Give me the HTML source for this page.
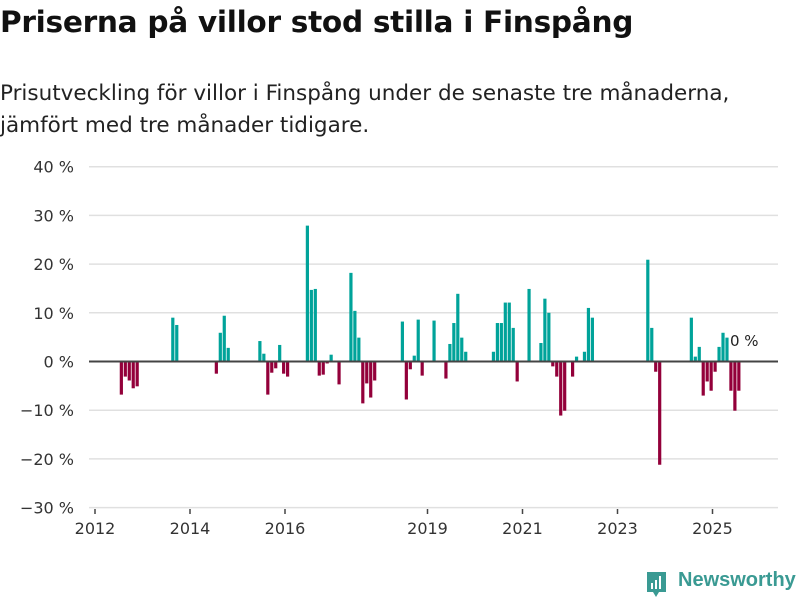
<!DOCTYPE html>
<html><head><meta charset="utf-8"><style>
body{margin:0;width:800px;height:600px;background:#fff;font-family:"DejaVu Sans","Liberation Sans",sans-serif;overflow:hidden;position:relative}
h1{position:absolute;left:0;top:5px;margin:0;font-size:29.6px;font-weight:bold;color:#111;letter-spacing:-0.3px;white-space:nowrap}
p{position:absolute;left:0;top:78px;margin:0;font-size:21.5px;line-height:32px;color:#222;white-space:nowrap}
svg{position:absolute;left:0;top:0}
</style></head><body>
<h1>Priserna på villor stod stilla i Finspång</h1>
<p>Prisutveckling för villor i Finspång under de senaste tre månaderna,<br>jämfört med tre månader tidigare.</p>
<svg id="chart" width="800" height="600"></svg>
<div style="position:absolute;left:645px;top:570px;">
<svg width="24" height="30" style="position:absolute;left:0;top:0"><path d="M2 2h19v20h-7l-3 5-3-5H2z" fill="#3a9a93"/><rect x="6" y="13" width="2" height="6" fill="#fff"/><rect x="10" y="10" width="2" height="9" fill="#fff"/><rect x="14" y="6" width="2" height="13" fill="#fff"/></svg>
<span style="position:absolute;left:33px;top:-1px;font-family:'Liberation Sans',sans-serif;font-size:20px;font-weight:bold;color:#3a9a93;white-space:nowrap">Newsworthy</span></div>
<script>
const months=[6,7,8,9,10,19,20,30,31,32,33,41,42,43,44,45,46,47,48,53,54,55,56,57,58,59,61,64,65,66,67,68,69,70,77,78,79,80,81,82,85,88,89,90,91,92,93,100,101,102,103,104,105,106,109,112,113,114,115,116,117,118,120,121,123,124,125,139,140,141,142,150,151,152,153,154,155,156,157,158,159,160,161,162];
const values=[-6.8,-3.1,-3.9,-5.5,-5.1,9.0,7.5,-2.5,5.9,9.4,2.8,4.2,1.6,-6.8,-2.3,-1.4,3.4,-2.5,-3.1,27.9,14.7,14.9,-2.9,-2.7,-0.4,1.4,-4.7,18.2,10.4,4.9,-8.6,-4.5,-7.4,-3.9,8.2,-7.8,-1.6,1.2,8.6,-2.9,8.4,-3.5,3.6,7.9,13.9,4.9,2.0,2.0,7.9,7.9,12.1,12.1,6.9,-4.1,14.9,3.8,12.9,10.0,-1.0,-3.1,-11.1,-10.1,-3.1,1.0,2.0,11.0,9.0,20.9,6.9,-2.1,-21.2,9.0,1.0,3.0,-7.0,-4.1,-6.0,-2.1,3.0,5.9,4.9,-6.0,-10.1,-6.0];
const yTicks=[40,30,20,10,0,-10,-20,-30];
const xYears=[2012,2014,2016,2019,2021,2023,2025];
const NS="http://www.w3.org/2000/svg";
const svg=document.getElementById('chart');
const y=v=>361.5-v*4.87;
const xm=m=>95+m*47.5/12;
const xy=yr=>xm((yr-2012)*12);
function mk(t,a){const e=document.createElementNS(NS,t);for(const k in a)e.setAttribute(k,a[k]);svg.appendChild(e);return e;}
yTicks.forEach(t=>{
  if(t!==0){const g=mk('line',{x1:89,x2:778,y1:y(t),y2:y(t),stroke:'#e0e0e0','stroke-width':1.5});
  
  }
  const l=mk('text',{x:74,y:y(t)+6,'text-anchor':'end','font-size':16,fill:'#333'});
  
  
  l.textContent=(t<0?'\u2212'+(-t):t)+' %';
});
xYears.forEach(yr=>{
  const tk=mk('line',{x1:xy(yr),x2:xy(yr),y1:509,y2:514,stroke:'#444','stroke-width':1.5});
  
  
  const l=mk('text',{x:xy(yr),y:534,'text-anchor':'middle','font-size':16,fill:'#333'});
  
  
  l.textContent=yr;
});
months.forEach((m,i)=>{
  const v=values[i];
  const b=mk('rect',{x:xm(m)+1,width:3.2,y:v>=0?y(v):y(0),height:Math.abs(y(v)-y(0)),fill:v>=0?'#00a39a':'#93003a'});
  
  
});
const z=mk('line',{x1:89,x2:778,y1:y(0),y2:y(0),stroke:'#444','stroke-width':2});


const lab=mk('text',{x:730,y:346,'font-size':15,fill:'#222',stroke:'#fff','stroke-width':3,'paint-order':'stroke'});


lab.textContent='0 %';
</script>
</body></html>
